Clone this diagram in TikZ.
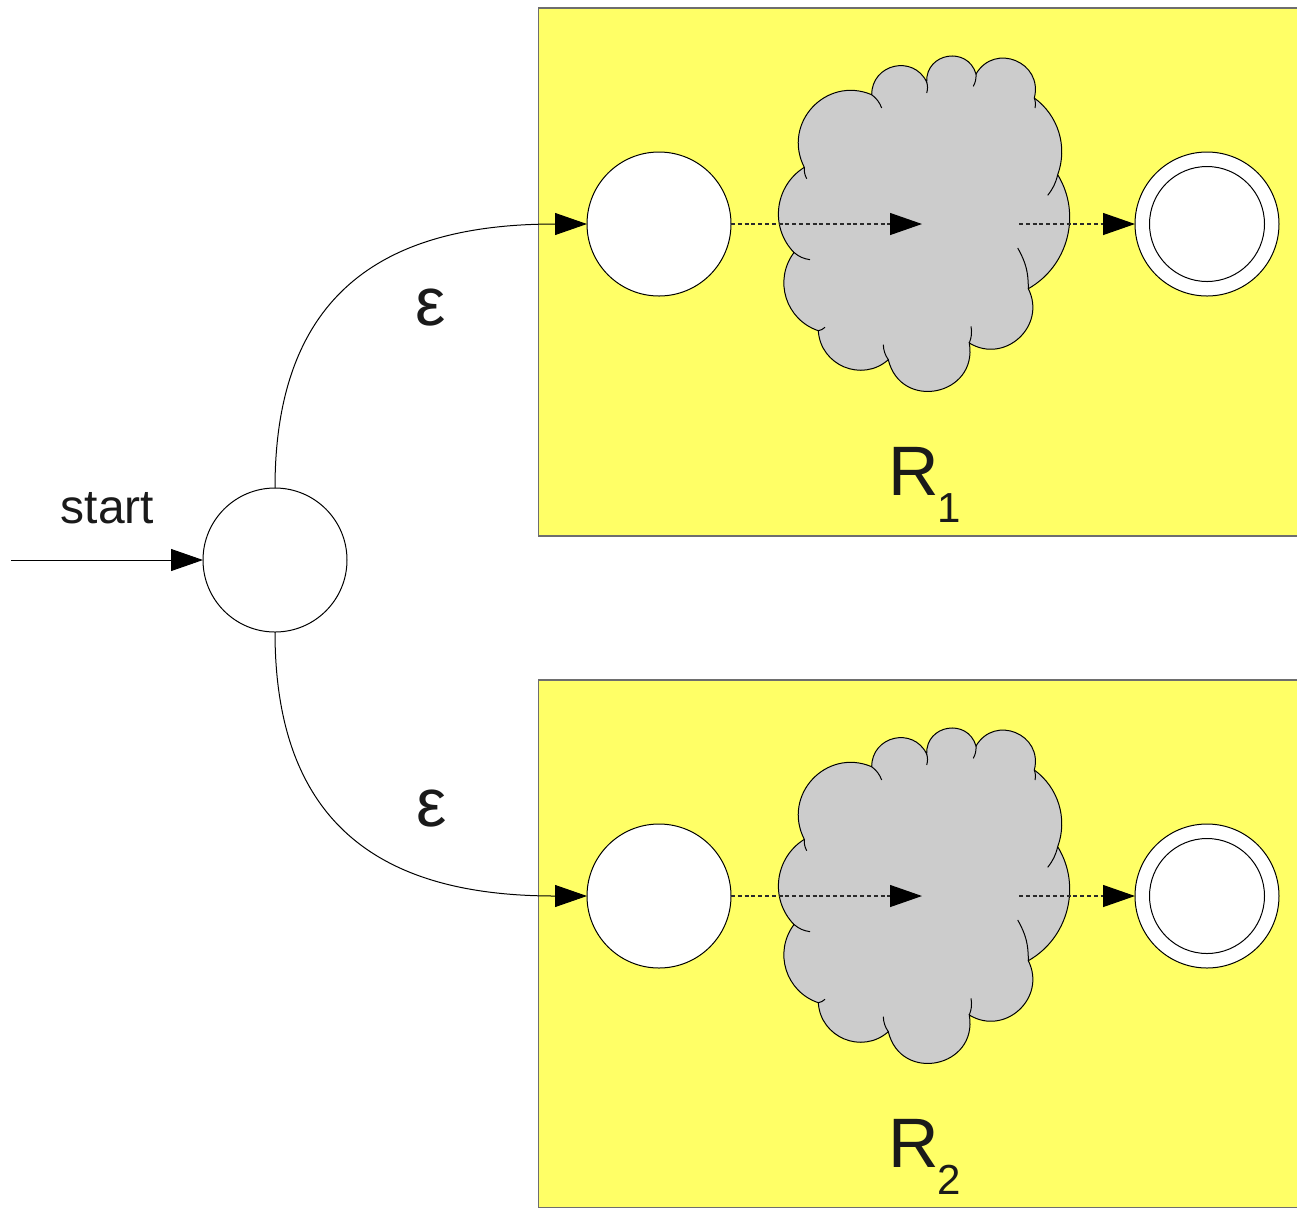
\documentclass[tikz,border=0pt]{standalone}
\usepackage{fontspec}
\setmainfont{Liberation Sans}
\usetikzlibrary{arrows.meta}
\definecolor{boxyellow}{HTML}{FFFF66}
\definecolor{cloudgray}{HTML}{CCCCCC}
\definecolor{dashgray}{HTML}{2A2A2A}
\definecolor{framegray}{HTML}{6E6E6E}
\definecolor{inkblack}{HTML}{1A1A1A}
\begin{document}
\begin{tikzpicture}[x=0.5pt,y=-0.5pt,
  state/.style={circle,draw=black,fill=white,line width=0.5pt,minimum size=72pt,inner sep=0pt,outer sep=0pt},
  accin/.style={circle,draw=black,line width=0.5pt,minimum size=57.5pt,inner sep=0pt,outer sep=0pt},
  region/.style={fill=boxyellow,draw=framegray,line width=0.7pt},
  edge/.style={draw=black,line width=0.5pt,-{Triangle[length=16pt,width=11pt]}},
  dashedge/.style={draw=dashgray,line width=0.6pt,dash pattern=on 2pt off 1.4pt,-{Triangle[length=16pt,width=11pt,color=black,fill=black]}},
  cloudline/.style={draw=black,line width=0.5pt},
  lbl/.style={inner sep=0pt,outer sep=0pt,text=inkblack},
]
\useasboundingbox (0,0) rectangle (1297,1207);
\fill[white] (0,0) rectangle (1297,1207);

\foreach \i/\dy in {1/0,2/672}{
  \begin{scope}[shift={(0,\dy)}]
    \path[region] (538.5,8) rectangle (1310,536);
    % cloud
    \filldraw[fill=cloudgray,cloudline]
      (794,252.5) to[bend left=51,looseness=1.05] (804.3,167.3)
      to[bend left=70,looseness=1.28] (871.7,94.7)
      to[bend left=77,looseness=1.40] (926.7,82)
      to[bend left=83,looseness=1.51] (976,74)
      to[bend left=82,looseness=1.50] (1034.3,98)
      to[bend left=37,looseness=0.95] (1057.7,174.7)
      to[bend left=46,looseness=1.0] (1028.3,288.7)
      to[bend left=74,looseness=1.33] (969.3,343)
      to[bend left=88,looseness=1.65] (888.3,359.7)
      to[bend left=64,looseness=1.18] (818.3,330.7)
      to[bend left=54,looseness=1.08] (794,252.5) -- cycle;
    \draw[cloudline] (804.3,167.3) to[bend right=15] (806.7,178.7);
    \draw[cloudline] (871.7,94.7) to[bend left=15] (881.7,108);
    \draw[cloudline] (926.7,82) to[bend left=15] (926.7,93);
    \draw[cloudline] (976,74) to[bend left=15] (973.3,86.3);
    \draw[cloudline] (1034.3,98) to[bend left=15] (1035,108);
    \draw[cloudline] (1057.7,174.7) to[bend left=12] (1047.7,195.3);
    \draw[cloudline] (1028.3,288.7) to[bend right=15] (1017.7,248);
    \draw[cloudline] (969.3,343) to[bend right=15] (971,326.3);
    \draw[cloudline] (888.3,359.7) to[bend left=15] (883.3,344.7);
    \draw[cloudline] (818.3,330.7) to[bend right=15] (825,327.3);
    \draw[cloudline] (794,252.5) to[bend right=15] (810,259.7);
    % states
    \node[state] (q\i) at (659,224) {};
    \node[state] (f\i) at (1207,224) {};
    \node[accin] (fi\i) at (1207,224) {};
    \coordinate (m\i) at (922,224);
    \coordinate (n\i) at (1019,224);
    \draw[dashedge] (q\i.east) -- (m\i);
    \draw[dashedge] (n\i) -- (f\i.west);
    % labels
    \node[lbl,anchor=base,font=\fontsize{35}{42}\selectfont] (r\i) at (914,495) {R};
    \node[lbl,anchor=base,font=\fontsize{21}{25}\selectfont] (rs\i) at (949,522) {\i};
  \end{scope}
}

\node[state] (s) at (275,560) {};
\coordinate (st) at (11,560);
\draw[edge] (st) -- (s.west);
\node[lbl,anchor=base,font=\fontsize{24}{29}\selectfont] (startlbl) at (107.5,523) {start};

\draw[edge] (s.north) .. controls (275,280) and (400,224) .. (q1.west);
\draw[edge] (s.south) .. controls (275,840) and (400,896) .. (q2.west);

\node[lbl,font=\fontsize{34}{40}\selectfont] (e1) at (431,308) {ε};
\node[lbl,font=\fontsize{34}{40}\selectfont] (e2) at (432,808.5) {ε};
\end{tikzpicture}
\end{document}
